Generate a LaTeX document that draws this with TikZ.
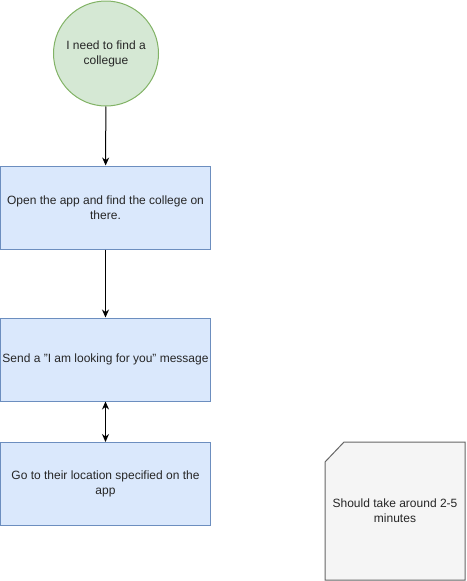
\documentclass[tikz,border=0pt]{standalone}
\usepackage{fontspec}
\setmainfont{Liberation Sans}
\usetikzlibrary{arrows.meta}
\definecolor{startfill}{HTML}{D5E8D4}
\definecolor{startline}{HTML}{82B366}
\definecolor{boxfill}{HTML}{DAE8FC}
\definecolor{boxline}{HTML}{6C8EBF}
\definecolor{notefill}{HTML}{F5F5F5}
\definecolor{noteline}{HTML}{666666}
\begin{document}
\begin{tikzpicture}[x=1pt, y=-1pt,
	every node/.style={font=\fontsize{12}{15}\selectfont, text=black!85},
	startnode/.style={circle, draw=startline, fill=startfill, line width=1pt, minimum size=105pt, inner sep=0pt, align=center},
	stepbox/.style={rectangle, draw=boxline, fill=boxfill, line width=1pt, minimum width=210pt, minimum height=83pt, inner sep=0pt, align=center},
	flow/.style={line width=1pt, -{Stealth[length=8pt, width=7pt]}},
	bothflow/.style={line width=1pt, {Stealth[length=8pt, width=7pt]}-{Stealth[length=8pt, width=7pt]}}]
	\useasboundingbox (0,0) rectangle (466,581);

	\node[startnode] (start) at (106,53.5) {I need to find a\\collegue};
	\node[stepbox] (open) at (105.5,207.5) {Open the app and find the college on\\there.};
	\node[stepbox] (send) at (105.5,359.5) {Send a "I am looking for you" message};
	\node[stepbox] (go) at (105.5,484) {Go to their location specified on the\\app};

	\draw[flow] (start) -- (open);
	\draw[flow] (open) -- (send);
	\draw[bothflow] (send) -- (go);

	% note
	\draw[draw=noteline, fill=notefill, line width=1pt] (325,462) -- (344,442) -- (465,442) -- (465,580) -- (325,580) -- cycle;
	\node[align=center] (note) at (395,511) {Should take around 2-5\\minutes};
\end{tikzpicture}
\end{document}
